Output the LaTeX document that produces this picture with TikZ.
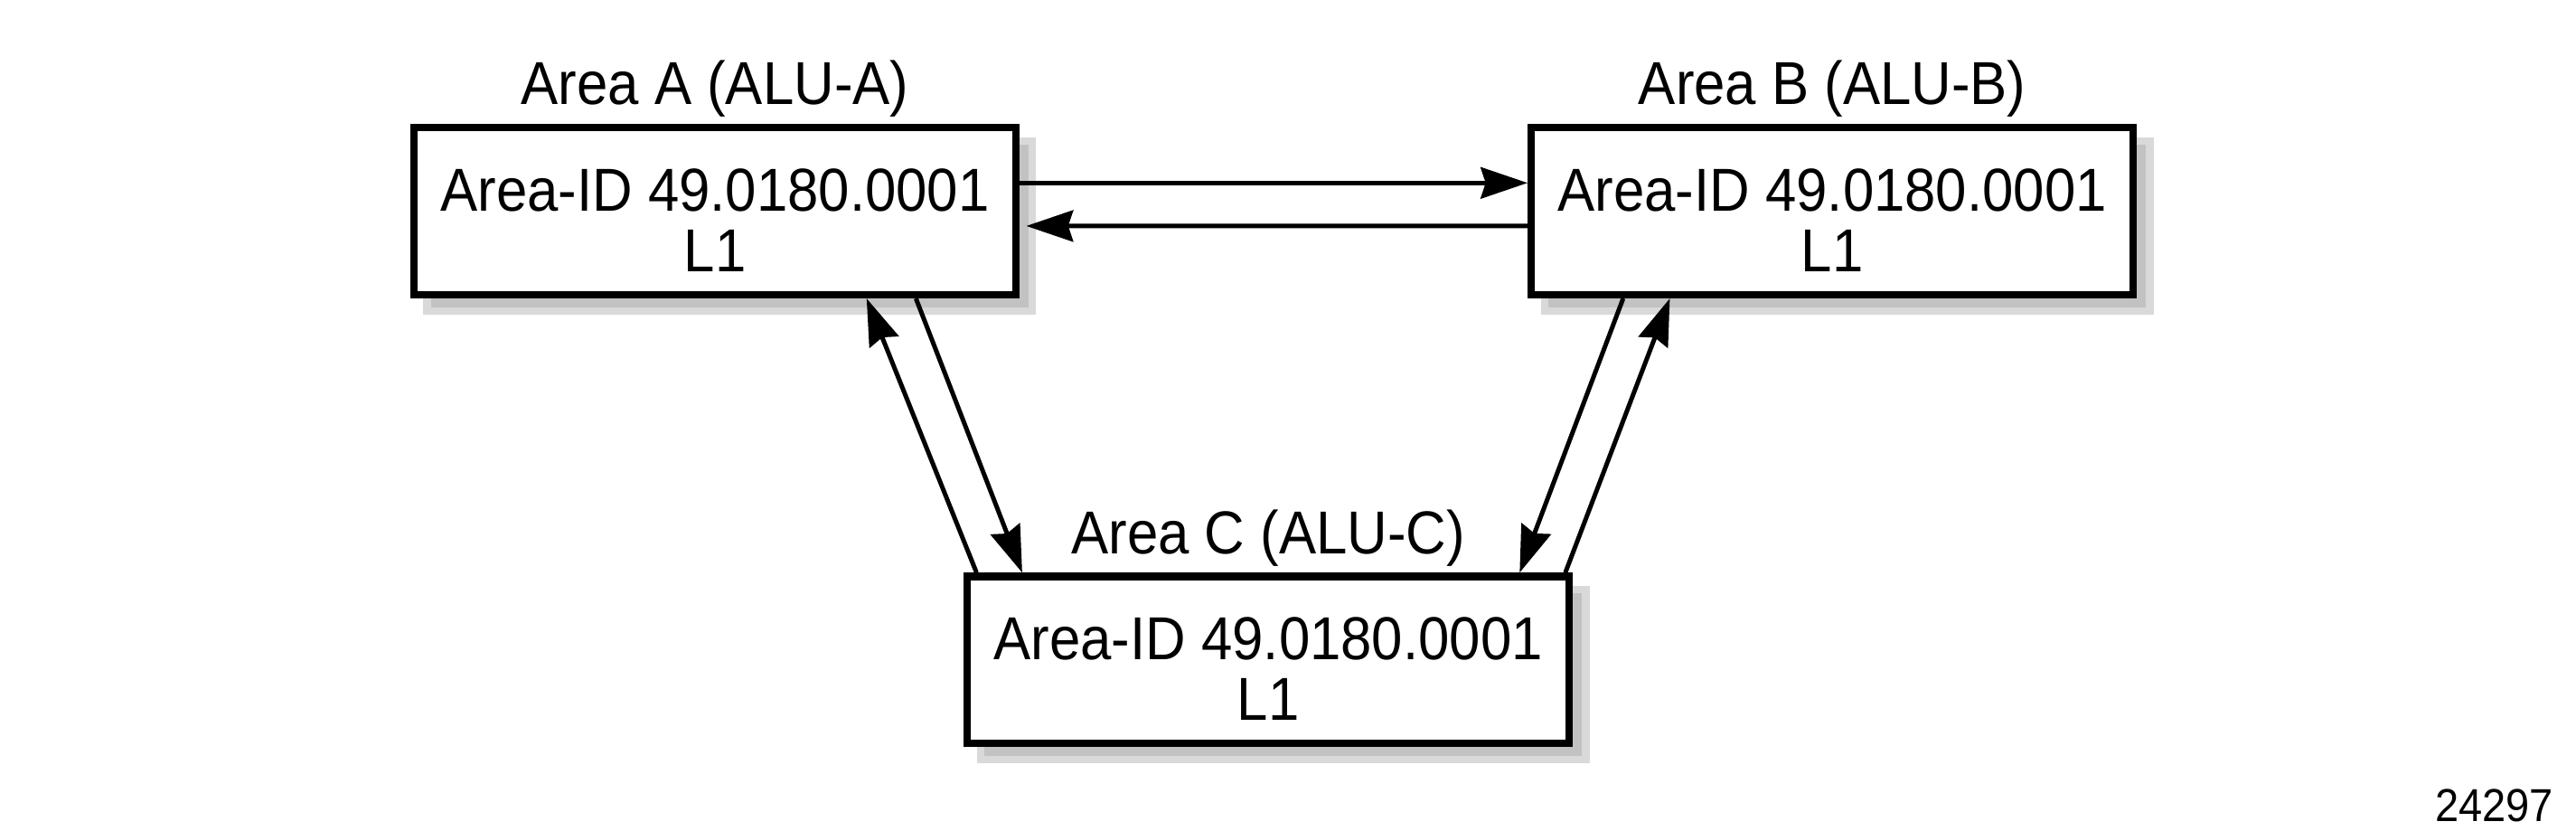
\documentclass[tikz,border=0pt]{standalone}
\usepackage{fontspec}
\setmainfont{Liberation Sans}[FakeStretch=0.92]
\usetikzlibrary{arrows.meta, backgrounds}

\newcommand{\areaid}{\rule{0pt}{10.4pt}Area-ID 49.0180.0001\\L1}

\tikzset{
	areabox/.style = {draw, line width = 1.3pt, fill = white, align = center,
		minimum width = 3.664cm, minimum height = 1.016cm, inner sep = 0pt,
		font = \fontsize{10.5}{10.5}\selectfont},
	arealabel/.style = {anchor = base, font = \fontsize{10.5}{10.5}\selectfont},
	shadowlight/.style = {fill = black!15},
	shadowdark/.style = {fill = black!24}
}

\begin{document}
\begin{tikzpicture}

	\useasboundingbox (0, 0) rectangle (15.68, 5.056);

	% Three areas
	
	\node [areabox] (A) at (4.352, 3.771) {\areaid};
	\node [areabox] (B) at (11.153, 3.771) {\areaid};
	\node [areabox] (C) at (7.72, 1.041) {\areaid};
	
	% Area names
	
	\node [arealabel] (nameA) at (4.352, 4.423) {Area A (ALU-A)};
	\node [arealabel] (nameB) at (11.153, 4.423) {Area B (ALU-B)};
	\node [arealabel] (nameC) at (7.72, 1.687) {Area C (ALU-C)};
	
	% Figure number
	
	\node [anchor = base east, font = \fontsize{8}{8}\selectfont] (fignum) at (15.665, 0.059) {24297};

	% Shadows behind the boxes
	
	\begin{scope}[on background layer]
	
		\fill [shadowlight] ([shift = {(0.08, -0.10)}] A.south west) rectangle ([shift = {(0.10, -0.08)}] A.north east);
		\fill [shadowdark] ([shift = {(0.125, -0.055)}] A.south west) rectangle ([shift = {(0.055, -0.125)}] A.north east);
		
		\fill [shadowlight] ([shift = {(0.08, -0.10)}] B.south west) rectangle ([shift = {(0.10, -0.08)}] B.north east);
		\fill [shadowdark] ([shift = {(0.125, -0.055)}] B.south west) rectangle ([shift = {(0.055, -0.125)}] B.north east);
		
		\fill [shadowlight] ([shift = {(0.08, -0.10)}] C.south west) rectangle ([shift = {(0.10, -0.08)}] C.north east);
		\fill [shadowdark] ([shift = {(0.125, -0.055)}] C.south west) rectangle ([shift = {(0.055, -0.125)}] C.north east);
	
	\end{scope}

	% Adjacencies between the areas
	
	\begin{scope}[> = {Stealth[length = 2.85mm, width = 1.9mm, inset = 0.3mm]}, line width = 0.78pt, ->]
	
		\draw ([yshift = 1.72mm] A.east) -- ([yshift = 1.72mm] B.west);
		\draw ([yshift = -0.9mm] B.west) -- ([shift = {(0.04, -0.09)}] A.east);
		
		\draw ([xshift = 12.23mm] A.south) -- ([xshift = -14.98mm] C.north);
		\draw ([xshift = -17.76mm] C.north) -- ([xshift = 9.23mm] A.south);
		
		\draw ([xshift = -12.73mm] B.south) -- ([xshift = 15.3mm] C.north);
		\draw ([xshift = 18.08mm] C.north) -- ([xshift = -9.89mm] B.south);
	
	\end{scope}

\end{tikzpicture}
\end{document}
